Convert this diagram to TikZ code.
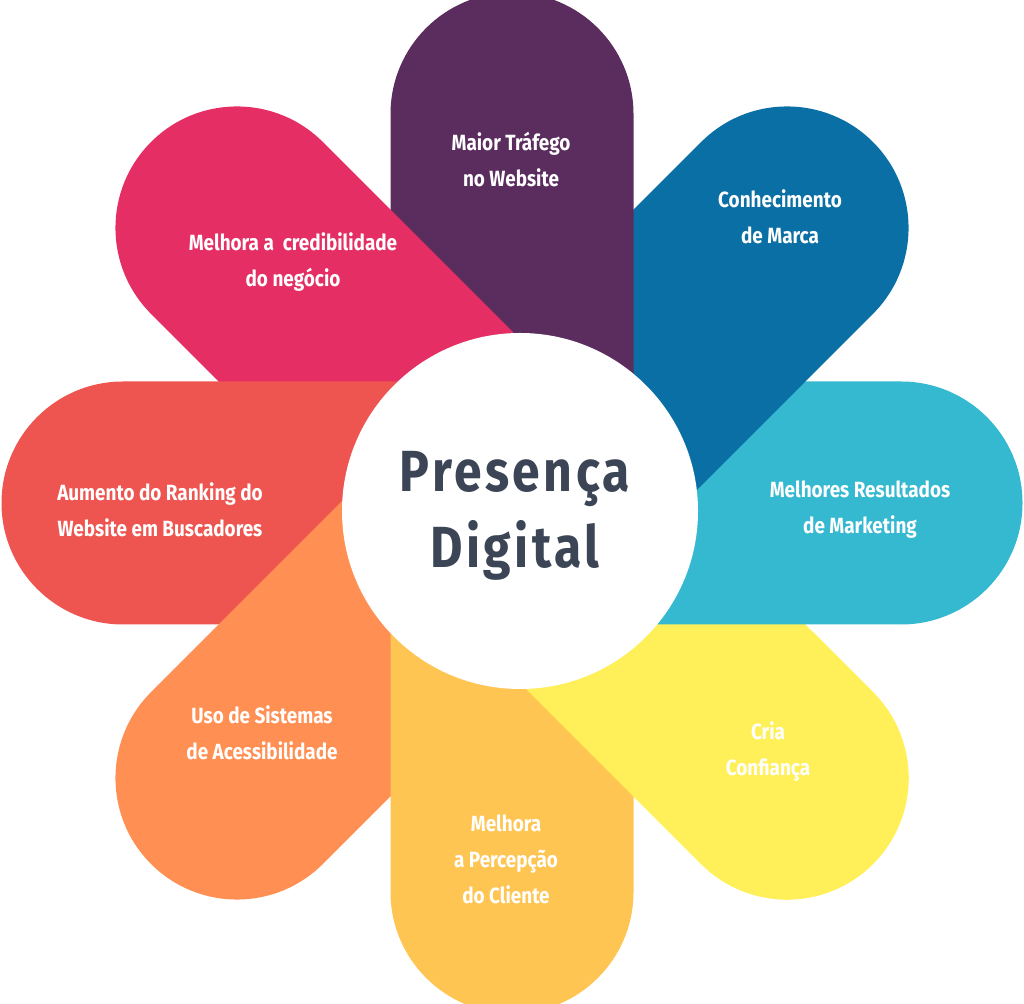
\documentclass[tikz,border=0pt]{standalone}
\usepackage{fontspec}
\setmainfont{Fira Sans}[FakeStretch=0.86]
\begin{document}
\begin{tikzpicture}[x=1pt,y=1pt]
\definecolor{cpur}{HTML}{5A2D5E}
\definecolor{cblu}{HTML}{0A6FA4}
\definecolor{ccya}{HTML}{35B9D1}
\definecolor{cyel}{HTML}{FFF05A}
\definecolor{cbot}{HTML}{FFC553}
\definecolor{cora}{HTML}{FF8F52}
\definecolor{cred}{HTML}{EE5550}
\definecolor{cmag}{HTML}{E52E63}
\definecolor{ctxt}{HTML}{3C4556}
\useasboundingbox (0,0) rectangle (1024,1003);
\tikzset{
  petal/.pic={\fill (0,-121.5) -- (389,-121.5) arc(-90:90:121.5) -- (0,121.5) -- cycle;},
  lab/.style={text=white,align=center,font=\fontsize{22}{36}\selectfont\bfseries}
}
\coordinate (c) at (512,500);
\pic[fill=cyel,rotate=-45] at (c) {petal};
\pic[fill=ccya,rotate=0] at (c) {petal};
\pic[fill=cblu,rotate=45] at (c) {petal};
\pic[fill=cpur,rotate=90] at (c) {petal};
\pic[fill=cmag,rotate=135] at (c) {petal};
\pic[fill=cred,rotate=180] at (c) {petal};
\pic[fill=cora,rotate=-135] at (c) {petal};
\pic[fill=cbot,rotate=-90] at (c) {petal};
\begin{scope}
\clip (512,0) rectangle (1024,370);
\pic[fill=cyel,rotate=-45] at (c) {petal};
\end{scope}
\fill[white] (520,492) circle (178);
\node[text=ctxt,align=center,font=\fontsize{58}{76}\selectfont\bfseries] (ctr) at (515,487) {\addfontfeature{LetterSpace=6}Presença\\\addfontfeature{LetterSpace=6}Digital};
\node[lab] (t1) at (511,843) {Maior Tráfego\\no Website};
\node[lab] (t2) at (780,786) {Conhecimento\\de Marca};
\node[lab] (t3) at (860,493) {Melhores Resultados\\de Marketing};
\node[lab] (t4) at (768,252) {Cria\\Confiança};
\node[lab] (t5) at (506,144) {Melhora\\a Percepção\\do Cliente};
\node[lab] (t6) at (262,270) {Uso de Sistemas\\de Acessibilidade};
\node[lab] (t7) at (160,493) {Aumento do Ranking do\\Website em Buscadores};
\node[lab] (t8) at (293,741) {Melhora a\ \ credibilidade\\do negócio};
\end{tikzpicture}
\end{document}
